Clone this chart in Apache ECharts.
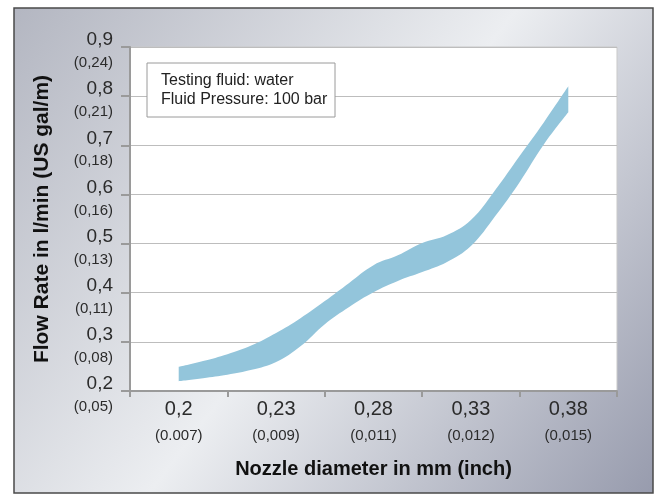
<!DOCTYPE html>
<html><head><meta charset="utf-8">
<script src="https://cdn.jsdelivr.net/npm/echarts@6/dist/echarts.min.js"></script>
<style>html,body{margin:0;padding:0;background:#fff}#c{width:659px;height:495px}</style>
</head><body><div id="c"></div>
<script>
// ---- data ----
const categoriesMM = ['0,2', '0,23', '0,28', '0,33', '0,38'];
const categoriesInch = ['(0.007)', '(0,009)', '(0,011)', '(0,012)', '(0,015)'];
const yTickValues = [0.2, 0.3, 0.4, 0.5, 0.6, 0.7, 0.8, 0.9];
const yLabelsMetric = ['0,2', '0,3', '0,4', '0,5', '0,6', '0,7', '0,8', '0,9'];
const yLabelsUS = ['(0,05)', '(0,08)', '(0,11)', '(0,13)', '(0,16)', '(0,18)', '(0,21)', '(0,24)'];
// band sample positions, in nozzle-category units (0 = 0,2 mm ... 4 = 0,38 mm)
const bandPositions = ['0', '0.25', '0.5', '0.75', '1', '1.25', '1.5', '1.75', '2', '2.25', '2.5', '2.75', '3', '3.25', '3.5', '3.75', '4'];
const bandUpper = [0.249, 0.261, 0.275, 0.293, 0.318, 0.348, 0.383, 0.420, 0.456, 0.476, 0.501, 0.517, 0.548, 0.609, 0.678, 0.747, 0.820];
const bandLower = [0.220, 0.226, 0.233, 0.243, 0.259, 0.291, 0.336, 0.371, 0.401, 0.424, 0.442, 0.462, 0.495, 0.556, 0.625, 0.702, 0.767];
const noteLines = ['Testing fluid: water', 'Fluid Pressure: 100 bar'];
const xAxisTitle = 'Nozzle diameter in mm (inch)';
const yAxisTitle = 'Flow Rate in l/min (US gal/m)';

// ---- chart ----
const FONT = '"Liberation Sans", Arial, sans-serif';
const chart = echarts.init(document.getElementById('c'), null, {renderer: 'canvas'});
const bandWidth = bandUpper.map((u, i) => +(u - bandLower[i]).toFixed(4));

const option = {
  animation: false,
  textStyle: {fontFamily: FONT},
  graphic: [
    {
      type: 'rect', z: -10,
      shape: {x: 14, y: 8, width: 639, height: 485},
      style: {
        fill: {type: 'linear', x: 0, y: 0, x2: 1, y2: 1, colorStops: [
          {offset: 0, color: '#b3b6c1'},
          {offset: 0.5, color: '#eceef1'},
          {offset: 1, color: '#979bad'}
        ]},
        stroke: '#4a4a4a', lineWidth: 1.5
      }
    },
    {type: 'rect', z: 100, shape: {x: 147, y: 63, width: 188, height: 54},
     style: {fill: '#fff', stroke: '#9a9a9a', lineWidth: 1}},
    {type: 'text', z: 101, x: 161, y: 71,
     style: {text: noteLines.join('\n'), font: '16px ' + FONT, fill: '#222', lineHeight: 19}}
  ],
  grid: [
    {left: 130, top: 47, width: 487, height: 344, show: true, backgroundColor: '#fff',
     borderColor: '#c9c9c9', borderWidth: 1},
    {left: 178.7, top: 47, width: 389.6, height: 344}
  ],
  xAxis: [
    {
      type: 'category', gridIndex: 0, data: categoriesMM, boundaryGap: true,
      axisLine: {lineStyle: {color: '#9a9a9a', width: 2}},
      axisTick: {show: true, length: 6, lineStyle: {color: '#9a9a9a', width: 2}},
      axisLabel: {
        margin: 7,
        formatter: (v, i) => '{a|' + v + '}\n{b|' + categoriesInch[i] + '}',
        rich: {
          a: {fontSize: 20, lineHeight: 23, color: '#2b2b2b', fontFamily: FONT},
          b: {fontSize: 15, lineHeight: 29, color: '#2b2b2b', fontFamily: FONT}
        }
      },
      name: xAxisTitle, nameLocation: 'middle', nameGap: 68,
      nameTextStyle: {fontSize: 20, fontWeight: 'bold', color: '#111', fontFamily: FONT}
    },
    {
      type: 'category', gridIndex: 1, data: bandPositions, boundaryGap: false, show: false
    }
  ],
  yAxis: [
    {
      type: 'value', gridIndex: 0, min: 0.2, max: 0.9, interval: 0.1,
      axisLine: {show: true, lineStyle: {color: '#9a9a9a', width: 2}},
      axisTick: {show: true, length: 9, lineStyle: {color: '#9a9a9a', width: 2}},
      splitLine: {lineStyle: {color: '#bdbdbd', width: 1}},
      axisLabel: {
        margin: 17,
        formatter: v => {
          const i = yTickValues.findIndex(t => Math.abs(t - v) < 1e-6);
          return '{a|' + yLabelsMetric[i] + '}\n{b|' + yLabelsUS[i] + '}';
        },
        rich: {
          a: {fontSize: 19, lineHeight: 32, color: '#2b2b2b', fontFamily: FONT, align: 'right'},
          b: {fontSize: 15, lineHeight: 14, color: '#2b2b2b', fontFamily: FONT, align: 'right'}
        }
      },
      name: yAxisTitle, nameLocation: 'middle', nameGap: 77,
      nameTextStyle: {fontSize: 21, fontWeight: 'bold', color: '#111', fontFamily: FONT}
    },
    {type: 'value', gridIndex: 1, min: 0.2, max: 0.9, show: false, splitLine: {show: false}}
  ],
  series: [
    {
      type: 'line', xAxisIndex: 1, yAxisIndex: 1, stack: 'band', data: bandLower,
      symbol: 'none', smooth: 0.4, lineStyle: {width: 0, opacity: 0}, silent: true
    },
    {
      type: 'line', xAxisIndex: 1, yAxisIndex: 1, stack: 'band', data: bandWidth,
      symbol: 'none', smooth: 0.4, lineStyle: {width: 0, opacity: 0},
      areaStyle: {color: '#93c5db', opacity: 1}, silent: true
    }
  ]
};
chart.setOption(option);
</script>
</body></html>
